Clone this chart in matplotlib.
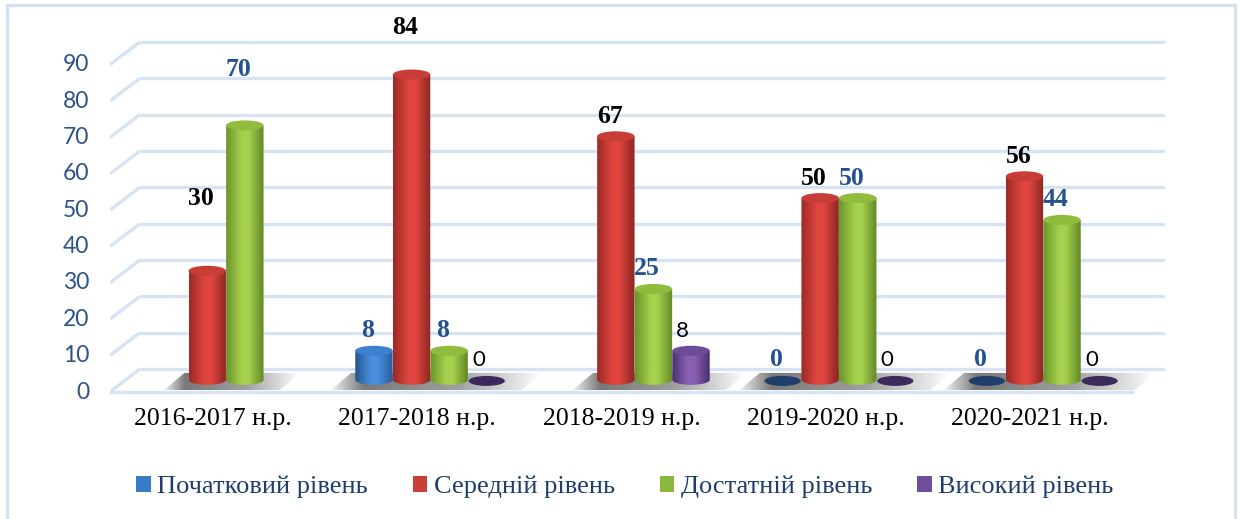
import numpy as np
import matplotlib
matplotlib.use("Agg")
import matplotlib.pyplot as plt
from matplotlib.colors import LinearSegmentedColormap
from matplotlib.patches import Ellipse, Polygon, Patch
from matplotlib.lines import Line2D

# ── data ──────────────────────────────────────────────────────────────────────
years = ["2016-2017 н.р.", "2017-2018 н.р.", "2018-2019 н.р.",
         "2019-2020 н.р.", "2020-2021 н.р."]
series_names = ["Початковий рівень", "Середній рівень",
                "Достатній рівень", "Високий рівень"]
initial    = [None, 8, None, 0, 0]
middle     = [30, 84, 67, 50, 56]
sufficient = [70, 8, 25, 50, 44]
high       = [None, 0, 8, 0, 0]
series = [initial, middle, sufficient, high]

# hand-moved data labels in the original (extra lift, value units)
label_lift = {(0, 1): 14.3, (0, 2): 9.8, (1, 1): 7.3}

# ── style ─────────────────────────────────────────────────────────────────────
GRID = "#d6e3f3"
TICK_BLUE = "#2e5288"
LABEL_BLUE = "#23508f"
# (dark-left, highlight, dark-right, top, flat zero disc)
SHADES = [
    ("#24558e", "#4a8fe0", "#2a5d9c", "#3c80d2", "#1f3e6b"),
    ("#9c2a26", "#e0463f", "#8c2623", "#c93d37", "#8c2623"),
    ("#6b952a", "#a6d14d", "#628826", "#90bc3e", "#5c8024"),
    ("#4c3173", "#8a60b5", "#48306c", "#6d4c97", "#3b2a5c"),
]
LEGEND_COLORS = ["#3a7bc8", "#c9403a", "#8cb83c", "#6f4d9a"]

W, H = 1240, 519
fig = plt.figure(figsize=(W / 100, H / 100), dpi=100)
ax = fig.add_axes([110 / W, (H - 400) / H, (1165 - 110) / W, 380 / H])
XL, XR = -0.504, 4.66
YB, YT = -2.75, 101.8

# depth of the 3D box (value / category units)
DX, DY = 0.147, 6.3
BASE = 2.8          # cylinders stand a little behind the front floor edge
SHIFT = 0.064       # cylinders sit right of the category centre
STEP, BW = 0.184, 0.183
EH = 2.75           # ellipse height in value units

# back wall gridlines + left diagonals
for v in range(0, 100, 10):
    ax.plot([XL, XL + DX], [v - 0.5, v - 0.5 + DY], color=GRID, lw=2.4,
            solid_capstyle="butt", zorder=1)
    ax.plot([XL + DX, XR], [v - 0.5 + DY, v - 0.5 + DY], color=GRID, lw=2.4,
            solid_capstyle="butt", zorder=1)
ax.plot([XL, 4.5], [-0.5, -0.5], color=GRID, lw=2.4, zorder=1)


def gradient_fill(x0, x1, y0, y1, cmap, clip, z=3):
    img = np.linspace(0, 1, 64).reshape(1, -1)
    im = ax.imshow(img, cmap=cmap, extent=[x0, x1, y0, y1], aspect="auto",
                   origin="lower", interpolation="bicubic", zorder=z)
    im.set_clip_path(clip)
    return im


# floor shadows under each group
shadow_rgba = np.zeros((1, 100, 4))
shadow_rgba[..., :3] = 0.38
t = np.linspace(0, 1, 100)
shadow_rgba[0, :, 3] = np.interp(t, [0, 0.15, 0.6, 1], [0.1, 0.85, 0.6, 0.0])
for g in range(len(years)):
    present = [s for s in range(4) if series[s][g] is not None]
    xa = g + SHIFT + (present[0] - 1.5) * STEP - BW / 2 - 0.12
    xb = g + SHIFT + (present[-1] - 1.5) * STEP + BW / 2 + 0.08
    poly = Polygon([(xa, 0), (xb, 0), (xb + 0.1, 4.7), (xa + 0.1, 4.7)],
                   closed=True, facecolor="none", edgecolor="none")
    ax.add_patch(poly)
    im = ax.imshow(shadow_rgba, extent=[xa, xb + 0.1, 0, 4.7], aspect="auto",
                   interpolation="bilinear", zorder=2)
    im.set_clip_path(poly)

# cylinders
for s, vals in enumerate(series):
    dark, light, right, top, zero = SHADES[s]
    cmap = LinearSegmentedColormap.from_list(
        f"cyl{s}", [(0, dark), (0.42, light), (0.6, light), (1, right)])
    for g, v in enumerate(vals):
        if v is None:
            continue
        xc = g + SHIFT + (s - 1.5) * STEP
        if v == 0:
            ax.add_patch(Ellipse((xc, BASE - 0.3), BW * 0.97, EH * 1.0,
                                 facecolor=zero, edgecolor="none", zorder=4))
            continue
        ang = np.linspace(np.pi, 2 * np.pi, 40)
        bottom = [(xc + BW / 2 * np.cos(a), BASE + EH / 2 * np.sin(a)) for a in ang]
        body = [(xc - BW / 2, BASE + v)] + bottom + [(xc + BW / 2, BASE + v)]
        poly = Polygon(body, closed=True, facecolor="none", edgecolor="none")
        ax.add_patch(poly)
        gradient_fill(xc - BW / 2, xc + BW / 2, BASE - EH, BASE + v, cmap, poly)
        ax.add_patch(Ellipse((xc, BASE + v), BW, EH, facecolor=top,
                             edgecolor="none", zorder=4))

# data labels
for s, vals in enumerate(series):
    for g, v in enumerate(vals):
        if v is None:
            continue
        xc = g + SHIFT + (s - 1.5) * STEP - 0.03
        y = v + 8.3 + label_lift.get((g, s), 0)
        if s == 3:
            ax.text(xc - 0.01, y, f"{v}", ha="center", va="center",
                    fontsize=16, family="Lato", color="black", zorder=6)
        else:
            ax.text(xc, y, f"{v}", ha="center", va="center", fontsize=18.5,
                    family="Liberation Serif", fontweight="bold",
                    color="black" if s == 1 else LABEL_BLUE, zorder=6)

ax.set_xlim(XL, XR)
ax.set_ylim(YB, YT)
ax.set_yticks(range(0, 100, 10))
ax.set_yticklabels([str(v) for v in range(0, 100, 10)], family="Lato",
                   fontsize=16.5, color=TICK_BLUE)
ax.set_xticks(range(len(years)))
ax.set_xticklabels(years, family="Liberation Serif", fontsize=18.5,
                   color="black")
ax.tick_params(axis="y", length=0, pad=15)
ax.tick_params(axis="x", length=0, pad=6)
for sp in ax.spines.values():
    sp.set_visible(False)
ax.set_facecolor("none")

handles = [Patch(facecolor=c, edgecolor="none") for c in LEGEND_COLORS]
fig.legend(handles, series_names, loc="center",
           bbox_to_anchor=(625 / W, 1 - 487 / H), ncol=4, frameon=False,
           prop={"family": "Liberation Serif", "size": 19},
           labelcolor="#1f3c6e", handlelength=0.55, handleheight=0.55,
           handletextpad=0.25, columnspacing=1.7)

# outer chart-area border (open at the bottom, as in the source crop)
bc = "#d3e1f2"
for xs, ys in [([7, 7], [5, H]), ([7, 1235], [5, 5]), ([1235, 1235], [5, H])]:
    fig.add_artist(Line2D([x / W for x in xs], [1 - y / H for y in ys],
                          color=bc, lw=2.2, transform=fig.transFigure))

fig.savefig("out.png", dpi=100, facecolor="white")
